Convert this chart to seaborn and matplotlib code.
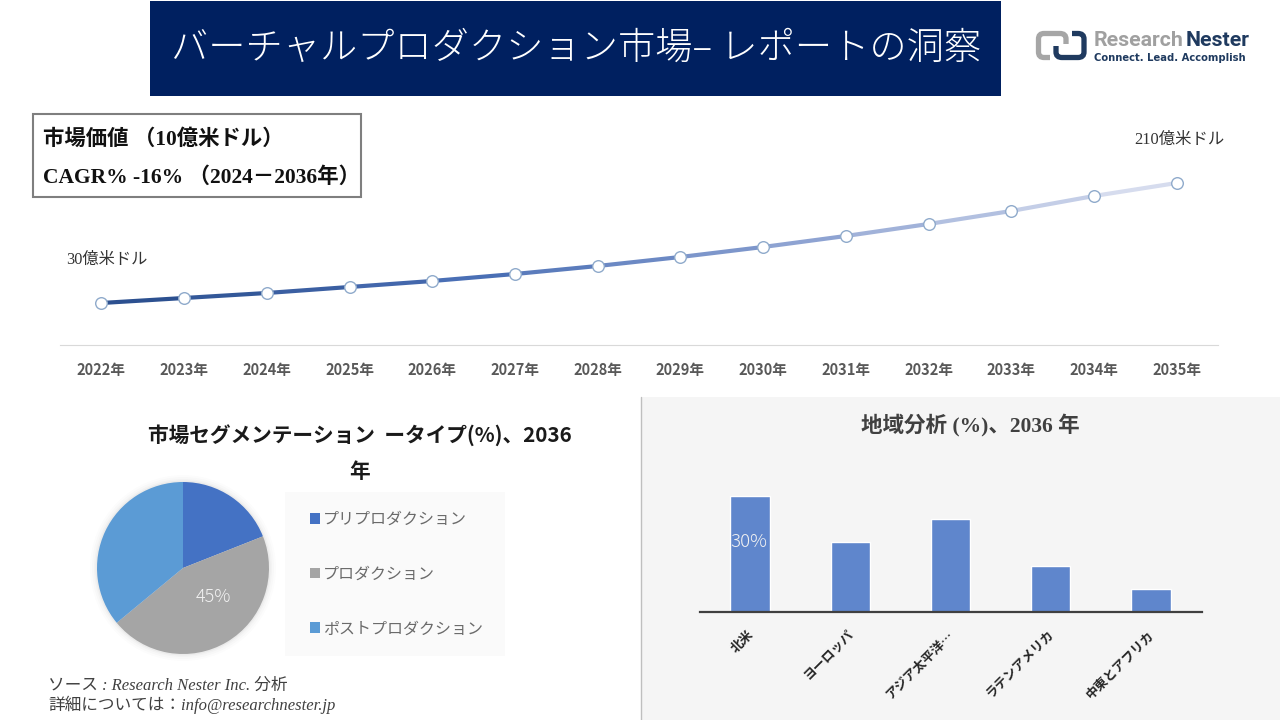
import matplotlib
matplotlib.use("Agg")
import matplotlib.pyplot as plt
from matplotlib.patches import Rectangle, Circle, PathPatch
from matplotlib.path import Path
from matplotlib.transforms import ScaledTranslation
import seaborn as sns
import pandas as pd

# --------------------------------------------------------------------------------------------------
# dados:

YEARS = ["2022年", "2023年", "2024年", "2025年", "2026年", "2027年", "2028年",
         "2029年", "2030年", "2031年", "2032年", "2033年", "2034年", "2035年"]
MARKET = [30, 37.5, 45, 54, 63, 73.5, 85.5, 99, 114, 130.5, 148.5, 168, 190.5, 210]

SEGMENTS = ["プリプロダクション", "プロダクション", "ポストプロダクション"]
SEGMENT_SHARE = [19, 45, 36]

REGIONS = ["北米", "ヨーロッパ", "アジア太平洋…", "ラテンアメリカ", "中東とアフリカ"]
REGION_SHARE = [30, 18, 24, 12, 6]

NAVY = "#002060"
LOGO_NAVY = "#1f3a5f"
SERIF = ["Liberation Serif", "Noto Sans CJK JP"]
SANS = ["Noto Sans CJK JP", "DejaVu Sans"]

W, H = 1280, 720

sns.set_theme(style="white")
plt.rcParams["font.family"] = SANS

fig = plt.figure(figsize=(12.8, 7.2), dpi=100, facecolor="white")


def px_axes(x0, y0, x1, y1, **kw):
    # eixos a partir de pixels da imagem (y para baixo)
    return fig.add_axes([x0 / W, 1 - y1 / H, (x1 - x0) / W, (y1 - y0) / H], **kw)


# --------------------------------------------------------------------------------------------------
# camada de fundo em pixels: faixa do titulo, logo, paineis

bg = px_axes(0, 0, W, H, zorder=0)
bg.set_xlim(0, W)
bg.set_ylim(H, 0)
bg.axis("off")

bg.add_patch(Rectangle((150, 1), 851, 95, color=NAVY, lw=0))
bg.text(576, 49, "バーチャルプロダクション市場– レポートの洞察", color="white", fontsize=26.8,
        ha="center", va="center", fontweight="light", family=SANS)

bg.add_patch(Rectangle((641, 397), 639, 323, color="#f5f5f5", lw=0))
bg.plot([640.5, 640.5], [397, 720], color="#bfbfbf", lw=1)
bg.add_patch(Rectangle((285, 492), 220, 164, color="#fafafa", lw=0))

# logo
L, C = Path.LINETO, Path.CURVE3
gray_path = Path([(1050, 57.5), (1044, 57.5), (1038.5, 57.5), (1038.5, 52), (1038.5, 39), (1038.5, 33.5),
                  (1044, 33.5), (1060, 33.5), (1066, 33.5), (1066, 39), (1066, 44)],
                 [Path.MOVETO, L, C, C, L, C, C, L, C, C, L])
navy_path = Path([(1072, 33.5), (1078, 33.5), (1084, 33.5), (1084, 39), (1084, 52), (1084, 57.5),
                  (1078, 57.5), (1062, 57.5), (1056, 57.5), (1056, 52), (1056, 46)],
                 [Path.MOVETO, L, C, C, L, C, C, L, C, C, L])
bg.add_patch(PathPatch(gray_path, fc="none", ec="#a6a6a6", lw=3.8, capstyle="butt"))
bg.add_patch(PathPatch(navy_path, fc="none", ec=LOGO_NAVY, lw=3.8, capstyle="butt"))
bg.text(1094, 40, "Research", color="#a0a0a0", fontsize=15.3, fontweight="bold", va="center",
        family="Roboto")
bg.text(1186, 40, "Nester", color=LOGO_NAVY, fontsize=15.3, fontweight="bold", va="center",
        family="Roboto")
bg.text(1094, 58, "Connect. Lead. Accomplish", color=LOGO_NAVY, fontsize=7.2, fontweight="bold",
        va="center", family="DejaVu Sans")

# caixa CAGR
bg.add_patch(Rectangle((33, 114), 328, 83, fc="white", ec="#7f7f7f", lw=1.5))
bg.text(43, 140, "市場価値 （10億米ドル）", fontsize=15.4, fontweight="bold", va="center",
        color="#111111", family=SERIF)
bg.text(43, 178, "CAGR% -16% （2024－2036年）", fontsize=15.5, fontweight="bold", va="center",
        color="#111111", family=SERIF)

# textos soltos
bg.text(66, 260, "30億米ドル", fontsize=11.7, va="center", color="#333333", family=SERIF)
bg.text(1134, 140, "210億米ドル", fontsize=11.8, va="center", color="#333333", family=SERIF)
bg.text(360, 435, "市場セグメンテーション  ータイプ(%)、2036", fontsize=14.9, fontweight="bold",
        ha="center", va="center", color="#1a1a1a", family=SANS)
bg.text(360, 471, "年", fontsize=14.9, fontweight="bold", ha="center", va="center",
        color="#1a1a1a", family=SANS)
bg.text(970, 425, "地域分析 (%)、2036 年", fontsize=15.5, fontweight="bold", ha="center",
        va="center", color="#404040", family=SERIF)
bg.text(48, 686, "ソース : Research Nester Inc. 分析", fontsize=12, style="italic", va="center",
        color="#404040", family=SERIF)
bg.text(48, 705, "詳細については：info@researchnester.jp", fontsize=12, style="italic", va="center",
        color="#404040", family=SERIF)

# --------------------------------------------------------------------------------------------------
# linha do mercado com gradiente por segmento

line_ax = px_axes(60, 120, 1218, 345, zorder=2)
line_ax.patch.set_alpha(0)

grad = sns.blend_palette(["#2c5090", "#4a6fb5", "#8ea3d2", "#d6dcee"], len(YEARS) - 1)
rows = []
for i in range(len(YEARS) - 1):
    rows.append({"seg": i, "year": i, "value": MARKET[i]})
    rows.append({"seg": i, "year": i + 1, "value": MARKET[i + 1]})
seg_df = pd.DataFrame(rows)

sns.lineplot(data=seg_df, x="year", y="value", hue="seg", palette=grad, linewidth=3,
             legend=False, ax=line_ax, zorder=2, errorbar=None)
sns.scatterplot(x=list(range(len(YEARS))), y=MARKET, s=70, color="white", edgecolor="#8faacb",
                linewidth=1.0, ax=line_ax, zorder=3, clip_on=False)

line_ax.set_xlim(-0.5, len(YEARS) - 0.5)
line_ax.set_ylim(-33, 304.5)
line_ax.set_xticks(range(len(YEARS)))
line_ax.set_xticklabels(YEARS, fontsize=10.5, fontweight="bold", color="#595959")
line_ax.set_yticks([])
line_ax.set_xlabel("")
line_ax.set_ylabel("")
line_ax.tick_params(axis="x", length=0, pad=12)
sns.despine(ax=line_ax, left=True)
line_ax.spines["bottom"].set_color("#d9d9d9")
line_ax.spines["bottom"].set_linewidth(0.8)

# --------------------------------------------------------------------------------------------------
# pizza

pie_ax = px_axes(83, 468, 283, 668, zorder=2)
pie_colors = ["#4472c4", "#a5a5a5", "#5b9bd5"]
for r, a in [(0.93, 0.012), (0.91, 0.015), (0.89, 0.02), (0.875, 0.03)]:
    pie_ax.add_patch(Circle((0, 0), r, color="black", alpha=a, lw=0))
wedges, _, autotexts = pie_ax.pie(SEGMENT_SHARE, colors=pie_colors, startangle=90, counterclock=False,
                                  radius=0.86, autopct=lambda p: "45%" if round(p) == 45 else "",
                                  wedgeprops={"linewidth": 0, "edgecolor": "none"},
                                  textprops={"color": "#f2f2f2", "fontsize": 13, "fontweight": "light"})
autotexts[1].set_position((0.30, -0.29))
pie_ax.set_xlim(-1, 1)
pie_ax.set_ylim(-1, 1)
pie_ax.patch.set_alpha(0)

pie_ax.legend(wedges, SEGMENTS, loc="upper left", bbox_to_anchor=(1.135, 0.785), frameon=False,
              fontsize=11.5, labelcolor="#6a6a6a", handlelength=0.65, handleheight=0.65,
              handletextpad=0.15, labelspacing=2.36, borderaxespad=0, borderpad=0)

# --------------------------------------------------------------------------------------------------
# barras por regiao

bar_ax = px_axes(700, 480, 1202, 612, zorder=2)
bar_ax.patch.set_alpha(0)
sns.barplot(x=REGIONS, y=REGION_SHARE, color="#5f86cc", saturation=1, width=0.395, ax=bar_ax)
bar_ax.set_xlim(-0.5, 4.51)
bar_ax.set_ylim(0, 34.1)
bar_ax.set_yticks([])
bar_ax.text(-0.01, 18.0, "30%", color="#f2f2f2", fontsize=13.5, ha="center", va="center",
            fontweight="light")
bar_ax.tick_params(axis="x", length=0, pad=11)
shift = ScaledTranslation(-4 / 100, 0, fig.dpi_scale_trans)
for lab in bar_ax.get_xticklabels():
    lab.set(rotation=45, ha="right", rotation_mode="anchor", fontsize=9.3, fontweight="bold",
            color="#262626")
    lab.set_transform(lab.get_transform() + shift)
sns.despine(ax=bar_ax, left=True)
bar_ax.spines["bottom"].set_color("#404040")
bar_ax.spines["bottom"].set_linewidth(1.6)

fig.savefig("out.png", dpi=100)
